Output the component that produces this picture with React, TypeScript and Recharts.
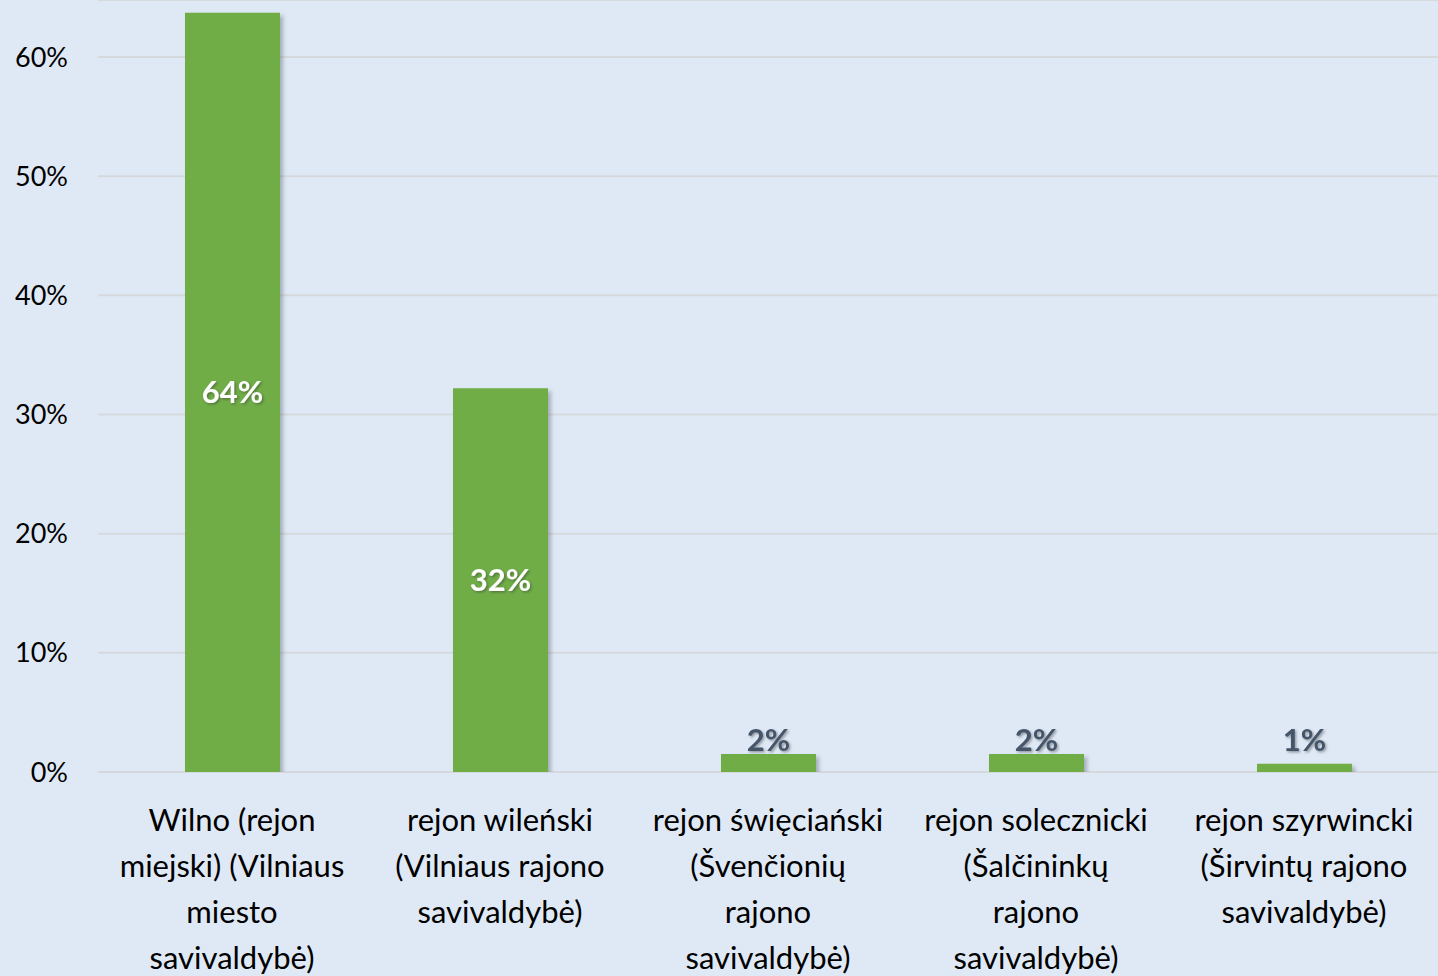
import { BarChart, Bar, XAxis, YAxis, CartesianGrid, LabelList } from 'recharts';

// municipality names (Polish + Lithuanian), split into the lines shown under each bar
const categories = [
  'Wilno (rejon miejski) (Vilniaus miesto savivaldybė)',
  'rejon wileński (Vilniaus rajono savivaldybė)',
  'rejon święciański (Švenčionių rajono savivaldybė)',
  'rejon solecznicki (Šalčininkų rajono savivaldybė)',
  'rejon szyrwincki (Širvintų rajono savivaldybė)',
];
const categoryLines = [
  ['Wilno (rejon', 'miejski) (Vilniaus', 'miesto', 'savivaldybė)'],
  ['rejon wileński', '(Vilniaus rajono', 'savivaldybė)'],
  ['rejon święciański', '(Švenčionių', 'rajono', 'savivaldybė)'],
  ['rejon solecznicki', '(Šalčininkų', 'rajono', 'savivaldybė)'],
  ['rejon szyrwincki', '(Širvintų rajono', 'savivaldybė)'],
];
const shares = [63.7, 32.2, 1.5, 1.5, 0.7];
const yTicks = [0, 10, 20, 30, 40, 50, 60];

const data = categories.map((name, i) => ({ name, idx: i, share: shares[i] }));

const FONT = 'Lato, "Open Sans", sans-serif';

function CategoryTick(props: any) {
  const { x, y, payload } = props;
  const lines = categoryLines[payload.index] ?? [String(payload.value)];
  return (
    <g transform={`translate(${x},${y})`}>
      {lines.map((ln, i) => (
        <text key={i} x={0} y={51 + i * 46} textAnchor="middle" fontSize={31} fill="#000" fontFamily={FONT}>
          {ln}
        </text>
      ))}
    </g>
  );
}

function ShareLabel(props: any) {
  const { x, y, width, height, value } = props;
  const big = value > 10;
  const txt = `${Math.round(value)}%`;
  // large bars: label centred inside; small bars: label just above the baseline
  const ty = big ? y + height / 2 + 11 : y + height - 21;
  return (
    <text
      x={x + width / 2}
      y={ty}
      textAnchor="middle"
      fontSize={31}
      fontWeight={700}
      fontFamily={FONT}
      fill={big ? '#ffffff' : '#44546a'}
      filter="url(#lblShadow)"
    >
      {txt}
    </text>
  );
}

export default function App() {
  return (
    <div style={{ position: 'absolute', left: 0, top: 0, width: 1438, height: 976, background: '#dfe9f5' }}>
      <BarChart width={1438} height={976} data={data} margin={{ top: 0, right: 0, bottom: 0, left: 0 }}>
        <defs>
          <filter id="barShadow" x="-20%" y="-5%" width="140%" height="110%">
            <feDropShadow dx="3" dy="3" stdDeviation="2" floodColor="#5a6470" floodOpacity="0.45" />
          </filter>
          <filter id="lblShadow" x="-20%" y="-20%" width="140%" height="140%">
            <feDropShadow dx="1.5" dy="1.5" stdDeviation="1.2" floodColor="#333" floodOpacity="0.45" />
          </filter>
        </defs>
        <CartesianGrid vertical={false} stroke="#d6d9dc" strokeWidth={2} />
        <XAxis
          dataKey="name"
          axisLine={false}
          tickLine={false}
          height={204}
          interval={0}
          tick={<CategoryTick />}
        />
        <YAxis
          width={98}
          domain={[0, 64.78]}
          ticks={yTicks}
          axisLine={false}
          tickLine={false}
          tickSize={0}
          tickMargin={30}
          tickFormatter={(v: number) => `${v}%`}
          tick={{ fontSize: 27, fill: '#000', fontFamily: FONT }}
          allowDataOverflow
        />
        <Bar dataKey="share" fill="#70ad47" barSize={95} isAnimationActive={false} filter="url(#barShadow)">
          <LabelList dataKey="share" content={<ShareLabel />} />
        </Bar>
      </BarChart>
    </div>
  );
}
